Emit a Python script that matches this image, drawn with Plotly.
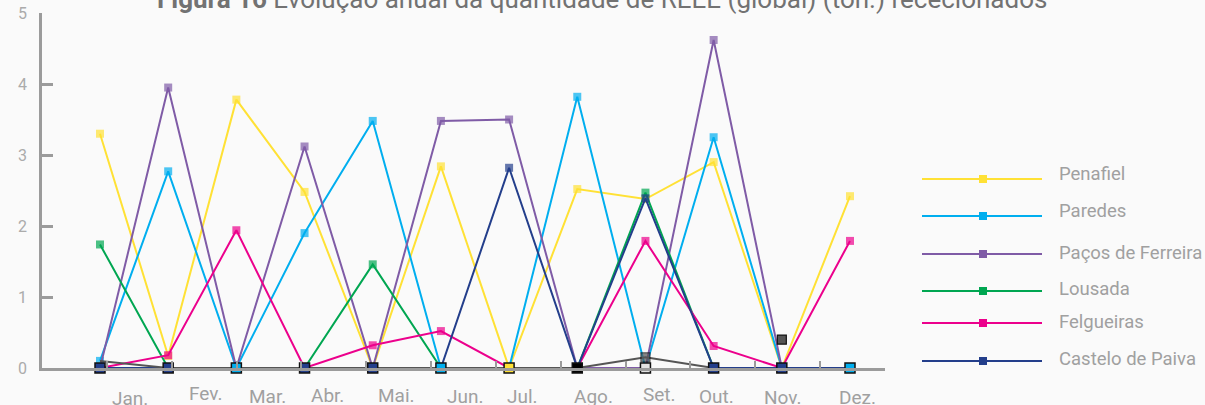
import plotly.graph_objects as go

months = ["Jan.", "Fev.", "Mar.", "Abr.", "Mai.", "Jun.", "Jul.", "Ago.", "Set.", "Out.", "Nov.", "Dez."]
series_names = ["Penafiel", "Paredes", "Paços de Ferreira", "Lousada", "Felgueiras", "Castelo de Paiva"]

penafiel = [3.30, 0.17, 3.78, 2.48, 0.0, 2.84, 0.0, 2.52, 2.38, 2.90, 0.0, 2.42]
paredes = [0.10, 2.77, 0.0, 1.90, 3.48, 0.0, 0.0, 3.82, 0.0, 3.25, 0.0, 0.0]
pacos = [0.0, 3.95, 0.0, 3.12, 0.0, 3.48, 3.50, 0.0, 0.0, 4.62, 0.0, 0.0]
lousada = [1.74, 0.0, 0.0, 0.0, 1.46, 0.0, 0.0, 0.0, 2.47, 0.0, 0.0, 0.0]
felgueiras = [0.0, 0.18, 1.94, 0.0, 0.32, 0.52, 0.0, 0.0, 1.79, 0.31, 0.0, 1.79]
castelo = [0.0, 0.0, 0.0, 0.0, 0.0, 0.0, 2.82, 0.0, 2.39, 0.0, 0.0, 0.0]
outros = [0.10, 0.0, 0.0, 0.0, 0.0, 0.0, 0.0, 0.0, 0.15, 0.0, None, None]
outros_isolado = [None, None, None, None, None, None, None, None, None, None, 0.40, None]
zero_line = [0.0] * 12

colors = ["#FFE135", "#00AEEF", "#7F5BA6", "#00A651", "#EC008C", "#233E8B"]
gray = "#555555"
zero_marker_colors = ["#233E8B", "#233E8B", "#00AEEF", "#233E8B", "#233E8B", "#00AEEF",
                      "#FFE135", "#000000", "#E2E2E2", "#233E8B", "#233E8B", "#00AEEF"]

# layout geometry (pixels)
W, H = 1205, 405
L, R, T, B = 42, 885, 13, 368
PX0, PXSTEP = 100, 750 / 11


def fx(px):
    return (px - L) / (R - L)


def fy(py):
    return (B - py) / (B - T)


x_idx = list(range(12))
all_series = [penafiel, paredes, pacos, lousada, felgueiras, castelo]

fig = go.Figure()
for name, vals, col in zip(series_names, all_series, colors):
    sizes = [8 if v > 0 else 0 for v in vals]
    fig.add_trace(go.Scatter(
        x=x_idx, y=vals, name=name, mode="lines+markers",
        line=dict(color=col, width=2),
        marker=dict(symbol="square", size=sizes, color=col, line=dict(width=0)),
        showlegend=False, hoverinfo="skip", cliponaxis=False))

fig.add_trace(go.Scatter(
    x=x_idx, y=outros, mode="lines+markers", line=dict(color=gray, width=2),
    marker=dict(symbol="square", size=[0, 0, 0, 0, 0, 0, 0, 0, 9, 0, 0, 0], color=gray,
                line=dict(color="#111111", width=1.2)),
    showlegend=False, hoverinfo="skip", cliponaxis=False))
fig.add_trace(go.Scatter(
    x=x_idx, y=outros_isolado, mode="markers",
    marker=dict(symbol="square", size=9, color=gray, line=dict(color="#111111", width=1.2)),
    showlegend=False, hoverinfo="skip", cliponaxis=False))
fig.add_trace(go.Scatter(
    x=x_idx, y=zero_line, mode="markers",
    marker=dict(symbol="square", size=10, color=zero_marker_colors, line=dict(color="#111111", width=1.5)),
    showlegend=False, hoverinfo="skip", cliponaxis=False))

x_lo = (L - PX0) / PXSTEP
x_hi = (R - PX0) / PXSTEP

axis_col = "#9B9B9B"
fig.update_layout(
    template="none",
    width=W, height=H,
    margin=dict(l=L, r=W - R, t=T, b=H - B, pad=0, autoexpand=False),
    paper_bgcolor="#FAFAFA", plot_bgcolor="#FAFAFA",
    font=dict(family="Roboto, sans-serif", color="#A0A0A0"),
    xaxis=dict(range=[x_lo, x_hi], showgrid=False, zeroline=False, showline=False, automargin=False,
               showticklabels=False, ticks="", fixedrange=True),
    xaxis2=dict(range=[0, 13], overlaying="x", side="bottom", showgrid=False, zeroline=False,
                automargin=False, showline=True, linecolor=axis_col, linewidth=2.5,
                tickmode="linear", tick0=0, dtick=1, ticks="inside", ticklen=7,
                tickwidth=2, tickcolor=axis_col, showticklabels=False),
    yaxis=dict(range=[0, 5], showgrid=False, zeroline=False, showline=True, linecolor=axis_col,
               automargin=False, linewidth=2.5, tickmode="linear", tick0=0, dtick=1,
               ticks="inside", ticklen=11, tickwidth=2.5, tickcolor=axis_col, ticklabelstandoff=9,
               tickfont=dict(size=16, color="#ABABAB")),
)
# dummy trace to activate xaxis2
fig.add_trace(go.Scatter(x=[0], y=[None], xaxis="x2", showlegend=False, hoverinfo="skip"))

annotations = []
annotations.append(dict(
    xref="paper", yref="paper", x=fx(602), y=1, xanchor="center", yanchor="bottom",
    text="<b>Figura 16</b> Evolução anual da quantidade de REEE (global) (ton.) rececionados",
    showarrow=False, font=dict(size=26, color="#727272"), yshift=-3))

label_xshift = [-9, 1, -1, -6, -2, 1, -6, 0, 1, -6, -5, 5]
label_ycenter = [399, 393.5, 397, 396, 396, 397, 397, 397, 395, 397, 397.5, 397.5]
for k, (m, xs, yc) in enumerate(zip(months, label_xshift, label_ycenter)):
    annotations.append(dict(
        xref="x2", yref="paper", x=k + 1.5, y=fy(yc), xanchor="center", yanchor="middle",
        text=m, showarrow=False, xshift=xs, font=dict(size=19, color="#A0A0A0")))

# custom legend
leg_line_y = [179, 216, 254, 291, 323, 361]
leg_text_y = [174, 211, 253, 289, 322, 359]
shapes = []
for name, col, ly, ty in zip(series_names, colors, leg_line_y, leg_text_y):
    shapes.append(dict(type="line", xref="paper", yref="paper", x0=fx(922), x1=fx(1042),
                       y0=fy(ly), y1=fy(ly), line=dict(color=col, width=2.2)))
    shapes.append(dict(type="rect", xref="paper", yref="paper", x0=fx(979), x1=fx(987),
                       y0=fy(ly - 4), y1=fy(ly + 4), fillcolor=col, line=dict(width=0)))
    annotations.append(dict(xref="paper", yref="paper", x=fx(1057), y=fy(ty), xanchor="left",
                            yanchor="middle", text=name, showarrow=False,
                            font=dict(size=18.5, color="#A0A0A0")))

fig.update_layout(annotations=annotations, shapes=shapes)
fig.write_html("out.html", config={"displayModeBar": False},
               post_script="document.body.style.margin='0';document.body.style.overflow='hidden';")
